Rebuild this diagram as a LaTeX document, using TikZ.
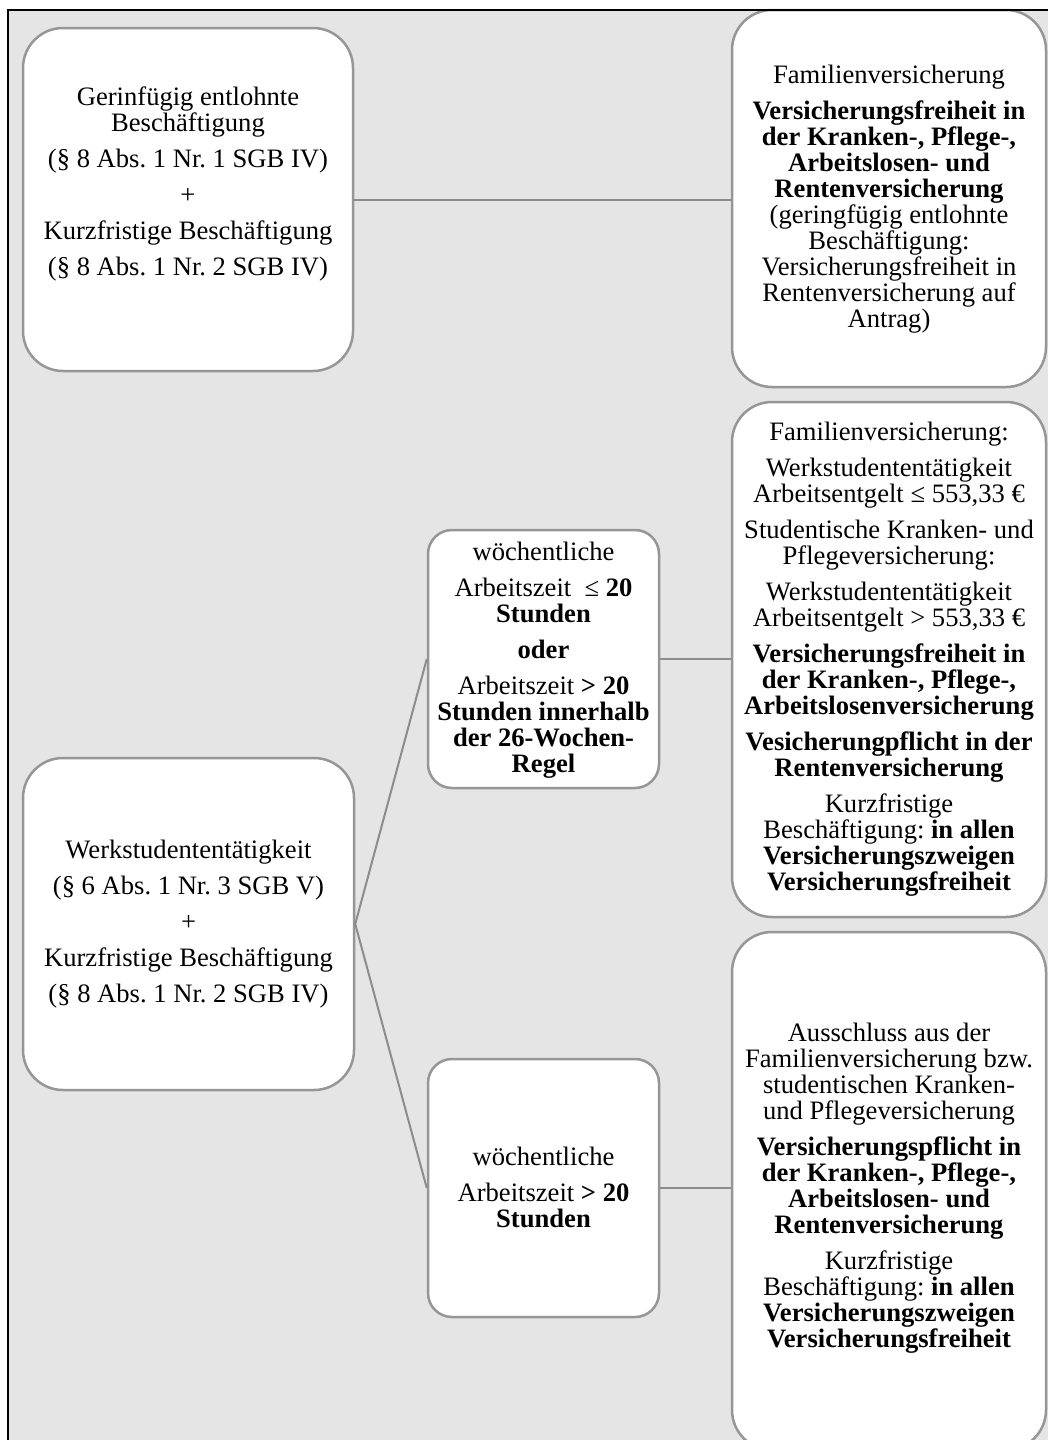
\documentclass[tikz,border=0pt]{standalone}
\usepackage{fontspec}
\setmainfont{Liberation Serif}
\definecolor{bg}{RGB}{229,229,229}
\definecolor{bd}{RGB}{150,150,150}
\definecolor{ln}{RGB}{140,140,140}
\tikzset{
  bigbox/.style={draw=bd, line width=2.5pt, fill=white, rounded corners=40pt, inner sep=0pt},
  smallbox/.style={draw=bd, line width=2.5pt, fill=white, rounded corners=24pt, inner sep=0pt},
  txt/.style={align=center, inner sep=0pt, font=\fontsize{26.6}{26}\selectfont\frenchspacing},
  conn/.style={draw=ln, line width=2pt},
}
\begin{document}
\frenchspacing
\begin{tikzpicture}[x=1pt,y=-1pt]
\useasboundingbox (0,0) rectangle (1048,1440);
\clip (0,0) rectangle (1048,1440);
\fill[bg] (8,10) rectangle (1060,1460);

% boxes
\node[bigbox, minimum width=330pt, minimum height=343pt] (A) at (188,199.5) {};
\node[bigbox, minimum width=314pt, minimum height=377pt] (B) at (889,198.5) {};
\node[bigbox, minimum width=314pt, minimum height=515pt] (C) at (889,659.5) {};
\node[smallbox, minimum width=231pt, minimum height=258pt] (D) at (543.5,659) {};
\node[bigbox, minimum width=331pt, minimum height=332pt] (E) at (188.5,924) {};
\node[smallbox, minimum width=231pt, minimum height=258pt] (F) at (543.5,1188) {};
\node[bigbox, minimum width=314pt, minimum height=518pt] (G) at (889,1191) {};

% connectors
\draw[conn] (A.east) -- (A.east -| B.west);
\draw[conn] (D.east) -- (D.east -| C.west);
\draw[conn] (F.east) -- (F.east -| G.west);
\draw[conn] (E.east) -- (D.west);
\draw[conn] (E.east) -- (F.west);

% texts
\node[txt] (tA) at (188,183.5) {Gerinfügig entlohnte\\Beschäftigung\\[10pt](§ 8 Abs. 1 Nr. 1 SGB IV)\\[10pt]+\\[10pt]Kurzfristige Beschäftigung\\[10pt](§ 8 Abs. 1 Nr. 2 SGB IV)};

\node[txt] (tB) at (889,199) {Familienversicherung\\[10pt]\textbf{Versicherungsfreiheit in}\\\textbf{der Kranken-, Pflege-,}\\\textbf{Arbeitslosen- und}\\\textbf{Rentenversicherung}\\(geringfügig entlohnte\\Beschäftigung:\\Versicherungsfreiheit in\\Rentenversicherung auf\\Antrag)};

\node[txt] (tC) at (889,659) {Familienversicherung:\\[10pt]Werkstudententätigkeit\\Arbeitsentgelt ≤ 553,33 €\\[10pt]Studentische Kranken- und\\Pflegeversicherung:\\[10pt]Werkstudententätigkeit\\Arbeitsentgelt > 553,33 €\\[10pt]\textbf{Versicherungsfreiheit in}\\\textbf{der Kranken-, Pflege-,}\\\textbf{Arbeitslosenversicherung}\\[10pt]\textbf{Vesicherungpflicht in der}\\\textbf{Rentenversicherung}\\[10pt]Kurzfristige\\Beschäftigung: \textbf{in allen}\\\textbf{Versicherungszweigen}\\\textbf{Versicherungsfreiheit}};

\node[txt] (tD) at (543.5,660) {wöchentliche\\[10pt]Arbeitszeit\ \ ≤ \textbf{20}\\\textbf{Stunden}\\[10pt]\textbf{oder}\\[10pt]Arbeitszeit \textbf{> 20}\\\textbf{Stunden innerhalb}\\\textbf{der 26-Wochen-}\\\textbf{Regel}};

\node[txt] (tE) at (188.5,924.5) {Werkstudententätigkeit\\[10pt](§ 6 Abs. 1 Nr. 3 SGB V)\\[10pt]+\\[10pt]Kurzfristige Beschäftigung\\[10pt](§ 8 Abs. 1 Nr. 2 SGB IV)};

\node[txt] (tF) at (543.5,1187.5) {wöchentliche\\[10pt]Arbeitszeit \textbf{> 20}\\\textbf{Stunden}};

\node[txt] (tG) at (889,1188) {Ausschluss aus der\\Familienversicherung bzw.\\studentischen Kranken-\\und Pflegeversicherung\\[10pt]\textbf{Versicherungspflicht in}\\\textbf{der Kranken-, Pflege-,}\\\textbf{Arbeitslosen- und}\\\textbf{Rentenversicherung}\\[10pt]Kurzfristige\\Beschäftigung: \textbf{in allen}\\\textbf{Versicherungszweigen}\\\textbf{Versicherungsfreiheit}};

% outer frame (left and top edges)
\draw[black, line width=2pt] (8,1445) -- (8,10) -- (1055,10);
\end{tikzpicture}
\end{document}
